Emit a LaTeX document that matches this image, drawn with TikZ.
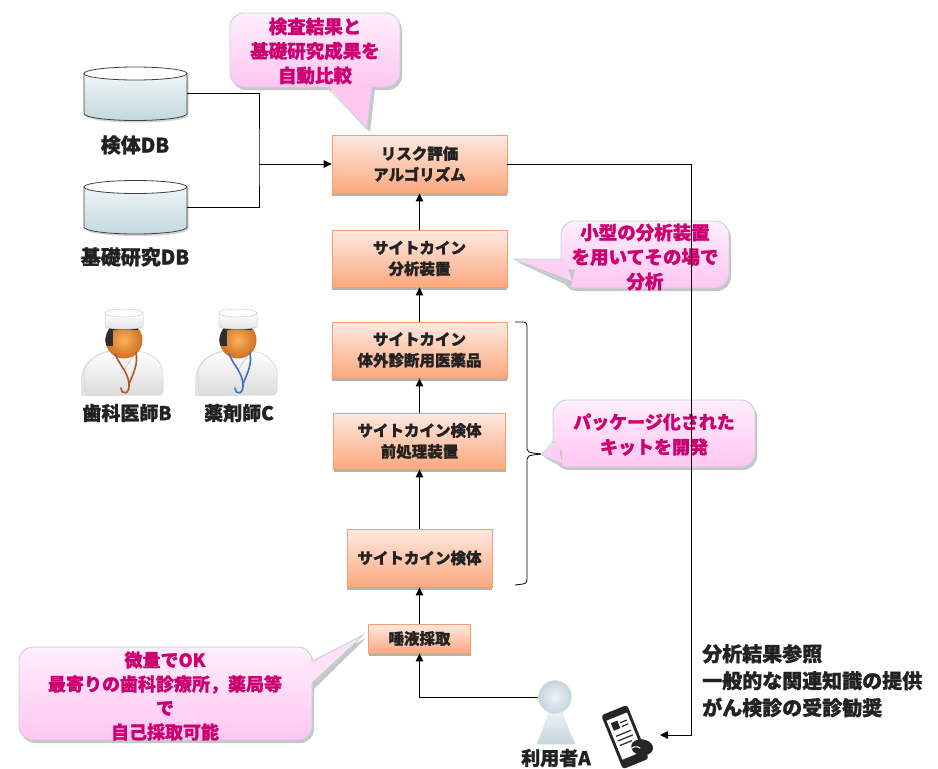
\documentclass[tikz,border=0pt]{standalone}
\usepackage{fontspec}
\setmainfont{Noto Sans CJK JP}[BoldFeatures={FakeBold=1.2}]
\usetikzlibrary{arrows.meta,calc}

\definecolor{boxtop}{RGB}{254,234,226}
\definecolor{boxbot}{RGB}{251,168,126}
\definecolor{boxline}{RGB}{247,158,110}
\definecolor{calltop}{RGB}{255,238,252}
\definecolor{callbot}{RGB}{255,198,242}
\definecolor{callline}{RGB}{186,214,216}
\definecolor{calltext}{RGB}{204,0,112}
\definecolor{dbtop}{RGB}{238,245,247}
\definecolor{dbbot}{RGB}{194,216,222}
\definecolor{ink}{RGB}{34,34,34}
\definecolor{skinin}{RGB}{250,178,92}
\definecolor{skinout}{RGB}{206,112,34}
\definecolor{usertop}{RGB}{238,243,246}
\definecolor{userbot}{RGB}{196,212,222}

\tikzset{
  procbox/.style={draw=boxline, line width=0.8pt, top color=boxtop, bottom color=boxbot,
    align=center, inner sep=0pt, text=ink,
    font=\bfseries\fontsize{15.5}{21}\selectfont,
    preaction={fill=black!30, transform canvas={yshift=-2.5pt}}},
  callbody/.style={draw=callline, line width=0.9pt, rounded corners=14pt,
    top color=calltop, bottom color=callbot, inner sep=0pt,
    preaction={fill=black!22, rounded corners=14pt, transform canvas={shift={(2pt,-3pt)}}}},
  calltxt/.style={align=center, text=calltext, inner sep=0pt,
    font=\bfseries\fontsize{18.5}{24.5}\selectfont},
  tailedge/.style={draw=callline, line width=0.9pt, line join=miter},
  tailshadow/.style={fill=black!22},
  link/.style={draw=black, line width=0.9pt},
  arr/.style={link, -{Triangle[length=8pt,width=7.5pt]}},
  plainlabel/.style={text=ink, inner sep=0pt, font=\bfseries\fontsize{19}{26}\selectfont},
}

\begin{document}
\begin{tikzpicture}[x=1pt, y=-1pt]
\useasboundingbox (0,0) rectangle (938,769);

% ---------- databases ----------
\foreach \nm/\cy/\lab/\ly in {db1/93.5/検体DB/145, db2/207/基礎研究DB/257}{
  \begin{scope}[shift={(135.5,\cy)}]
    \fill[black!18] (-50,-19) -- (-50,22) .. controls (-50,26) and (-28,29) .. (2,29)
      .. controls (30,29) and (53,26) .. (53,22) -- (53,-19) -- cycle;
    \shade[top color=dbtop, bottom color=dbbot, draw=black!75, line width=0.8pt]
      (-51.5,-20) -- (-51.5,20) .. controls (-51.5,23.9) and (-28.4,27) .. (0,27)
      .. controls (28.4,27) and (51.5,23.9) .. (51.5,20) -- (51.5,-20) -- cycle;
    \draw[black!75, line width=0.8pt, fill=white] (0,-20) ellipse [x radius=51.5, y radius=6.5];
  \end{scope}
  \node[minimum width=103pt, minimum height=54pt, inner sep=0pt] (\nm) at (135.5,\cy) {};
  \node[plainlabel, font=\bfseries\fontsize{20}{24}\selectfont] (\nm label) at (135,\ly) {\lab};
}

% ---------- process column ----------
\node[procbox, minimum width=175pt, minimum height=58pt] (risk) at (419.5,164) {リスク評価\\アルゴリズム};
\node[procbox, minimum width=175pt, minimum height=57pt] (analyzer) at (419.5,258.5) {サイトカイン\\分析装置};
\node[procbox, minimum width=175pt, minimum height=56pt] (ivd) at (419.5,350) {サイトカイン\\体外診断用医薬品};
\node[procbox, minimum width=172pt, minimum height=56pt] (prep) at (419.5,441) {サイトカイン検体\\前処理装置};
\node[procbox, minimum width=145pt, minimum height=58pt] (specimen) at (419.5,558) {サイトカイン検体};
\node[procbox, minimum width=102pt, minimum height=29pt] (saliva) at (419.5,638.5) {唾液採取};

\draw[arr] (analyzer.north) -- (risk.south);
\draw[arr] (ivd.north) -- (analyzer.south);
\draw[arr] (prep.north) -- (ivd.south);
\draw[arr] (specimen.north) -- (prep.south);
\draw[arr] (saliva.north) -- (specimen.south);

% databases feed the risk algorithm
\coordinate (merge) at (259,164);
\draw[link] (db1.east) -| (merge) |- (db2.east);
\draw[arr] (merge) -- (risk.west);

% bracket grouping the kit components
\draw[link, line width=0.8pt] (515,322) -- (524,322) to[out=0,in=90] (527,326) -- (527,449)
  to[out=270,in=180] (533,453) -- (541,454);
\draw[link, line width=0.8pt] (541,454) -- (533,455) to[out=180,in=90] (527,459)
  -- (527,580) to[out=270,in=0] (523,584) -- (515,585);

% ---------- speech balloons ----------
% top balloon
\node[callbody, minimum width=170pt, minimum height=74pt] (noteA) at (315,50) {};
\fill[tailshadow] (331,89) -- (370,132) -- (375,89) -- cycle;
\fill[callbot] (327,84) -- (367,129) -- (372,84) -- cycle;
\draw[tailedge] (327,87) -- (367,129) -- (372,87);
\node[calltxt] (noteAtext) at (315,51) {検査結果と\\基礎研究成果を\\自動比較};

% analyzer balloon
\node[callbody, minimum width=168pt, minimum height=67pt] (noteB) at (645,254.5) {};
\fill[tailshadow] (517,262) -- (571,287) -- (575,270) -- cycle;
\fill[calltop!25!callbot] (565,259) -- (514,259) -- (572,281) -- cycle;
\draw[tailedge] (561.5,259) -- (514,259) -- (567,283);
\node[calltxt] (noteBtext) at (645,257) {小型の分析装置\\を用いてその場で\\分析};

% kit balloon
\node[callbody, minimum width=202pt, minimum height=67pt] (noteC) at (654,433.5) {};
\fill[tailshadow] (545,458) -- (562,467) -- (562,450) -- cycle;
\fill[calltop!20!callbot] (557,440) -- (542,455) -- (562,463) -- cycle;
\draw[tailedge] (553.5,441) -- (542,455) -- (559,464);
\node[calltxt, font=\bfseries\fontsize{18}{25}\selectfont] (noteCtext) at (654,434.5) {パッケージ化された\\キットを開発};

% sampling balloon
\node[callbody, minimum width=293pt, minimum height=93pt] (noteD) at (165.5,693.5) {};
\fill[tailshadow] (314,665) -- (366,638) -- (314,689) -- cycle;
\fill[calltop!70!callbot] (308,662) -- (363,635) -- (308,686) -- cycle;
\draw[tailedge] (311.5,662) -- (363,635) -- (311.5,686);
\node[calltxt, font=\bfseries\fontsize{18}{24}\selectfont] (noteDtext) at (165,696) {微量でOK\\最寄りの歯科診療所，薬局等\\で\\自己採取可能};

% ---------- pharmacist / dentist figures ----------
\foreach \nm/\cx/\steth/\lab/\lx in {dentist/124/{rgb,255:red,176;green,84;blue,52}/歯科医師B/127,
                                     pharm/238/{rgb,255:red,70;green,110;blue,190}/薬剤師C/239}{
  \begin{scope}[shift={(\cx,340)}]
    % coat
    \fill[black!10] (-43,56) -- (-43,40) .. controls (-43,22) and (-28,12) .. (-12,10) -- (0,10) -- (0,56) -- cycle;
    \shade[top color=white, bottom color=black!14, draw=black!18, line width=0.5pt, rounded corners=4pt]
      (-40,55) -- (-40,38) .. controls (-40,22) and (-26,13) .. (-10,11) -- (12,11)
      .. controls (28,13) and (39,22) .. (39,38) -- (39,55) -- cycle;
    \draw[black!22, line width=0.8pt] (-10,12) -- (0,30) -- (12,12);
    % head
    \shade[inner color=skinin, outer color=skinout] (0,0) circle [radius=18.5];
    \begin{scope}
      \clip (0,0) circle [radius=18.5];
      \fill[black!82] (-20,-14) rectangle (-11,6);
      \fill[black!82] (-20,-14) rectangle (14,-10);
    \end{scope}
    % cap
    \shade[top color=white, bottom color=black!12, draw=black!20, line width=0.5pt]
      (-19,-13) -- (-19,-27) -- (19,-27) -- (19,-13) .. controls (10,-10) and (-10,-10) .. cycle;
    \draw[black!20, fill=white, line width=0.5pt] (0,-27) ellipse [x radius=19, y radius=4];
    % stethoscope
    \draw[color=\steth, line width=1.6pt, line cap=round]
      (-9,14) .. controls (-4,26) and (4,32) .. (5,44) .. controls (6,54) and (-2,56) .. (-3,48);
    \draw[color=\steth, line width=1.6pt, line cap=round]
      (12,13) .. controls (14,24) and (10,32) .. (5,44);
  \end{scope}
  \node[minimum width=84pt, minimum height=90pt, inner sep=0pt] (\nm) at (\cx,348) {};
  \node[plainlabel] (\nm label) at (\lx,413) {\lab};
}

% ---------- user ----------
\shade[top color=usertop, bottom color=userbot, draw=black!12, line width=0.5pt]
  (550,711) -- (561,711) -- (575,744) -- (537,744) -- cycle;
\node[circle, minimum size=33pt, inner sep=0pt, draw=black!12, line width=0.5pt,
  inner color=usertop, outer color=userbot] (userA) at (555,697) {};
\node[plainlabel] (userAlabel) at (556,758) {利用者A};
\draw[arr] (userA.west) -| (saliva.south);

% ---------- smartphone ----------
\begin{scope}[shift={(625,737)}, rotate=22]
  \fill[black!85, rounded corners=3pt] (-14,-29) rectangle (14,29);
  \fill[white] (-11,-22) rectangle (11,20);
  \fill[black!85] (-8,-18) rectangle (-1,-10);
  \draw[black!85, line width=1.2pt] (1,-15) -- (8,-15) (1,-11) -- (8,-11)
    (-8,-4) -- (8,-4) (-8,1) -- (8,1) (-8,6) -- (5,6);
  \fill[black!85, rotate around={-30:(12,16)}] (12,16) ellipse [x radius=11, y radius=8];
  \draw[white, line width=1pt] (-2,14) .. controls (3,12) and (8,12) .. (10,16);
\end{scope}
\coordinate (phonein) at (660,735);

% results go to the user's phone
\coordinate (rail) at (691,0);
\draw[arr] (risk.east) -- (risk.east -| rail) -- (rail |- phonein) -- (phonein);

\node[plainlabel, align=left, anchor=north west, font=\bfseries\fontsize{20}{27}\selectfont]
  (info) at (702,644) {分析結果参照\\一般的な関連知識の提供\\がん検診の受診勧奨};

\end{tikzpicture}
\end{document}
